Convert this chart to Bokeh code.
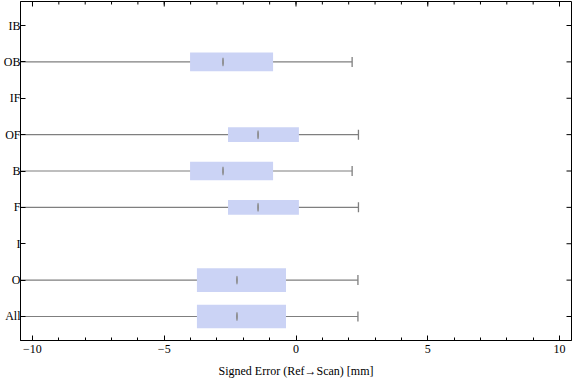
import math
from bokeh.plotting import figure
from bokeh.models import Range1d, FixedTicker, ColumnDataSource
from bokeh.embed import file_html
from bokeh.resources import INLINE

# ---- data ----
row_labels = ["All", "O", "I", "F", "B", "OF", "IF", "OB", "IB"]
series = ["All", "O", "F", "B", "OF", "OB"]
whisker_lo = [-11.5, -11.5, -11.5, -11.5, -11.5, -11.5]
q1 = [-3.76, -3.76, -2.58, -4.02, -2.58, -4.02]
median = [-2.24, -2.24, -1.44, -2.77, -1.44, -2.77]
q3 = [-0.38, -0.38, 0.11, -0.87, 0.11, -0.87]
whisker_hi = [2.35, 2.35, 2.37, 2.13, 2.37, 2.13]
x_major = [-10, -5, 0, 5, 10]
x_major_labels = ["\u221210", "\u22125", "0", "5", "10"]

# ---- style ----
box_height = {"All": 0.65, "O": 0.65, "F": 0.41, "B": 0.51, "OF": 0.41, "OB": 0.51}
FONT = "Liberation Serif"
GRAY = "#7f7f7f"
BOX = "#cbd3f5"
X0, X1 = -10.455, 10.455
Y0, Y1 = 0.34, 9.66

pos = {lab: i + 1 for i, lab in enumerate(row_labels)}
row_pos = [pos[l] for l in row_labels]
x_minor = list(range(-10, 11))
src = ColumnDataSource(dict(
    y=[pos[s] for s in series],
    lo=whisker_lo, q1=q1, med=median, q3=q3, hi=whisker_hi,
    h=[box_height[s] for s in series],
))

p = figure(width=576, height=381, output_backend="svg", toolbar_location=None,
           x_range=Range1d(X0, X1), y_range=Range1d(Y0, Y1),
           min_border_left=20, min_border_right=5, min_border_top=1, min_border_bottom=41,
           x_axis_label="Signed Error (Ref\u2192Scan) [mm]")
p.xgrid.visible = False
p.ygrid.visible = False
p.outline_line_color = "black"
p.outline_line_width = 1
p.background_fill_color = "white"
p.border_fill_color = "white"

p.segment(x0="lo", y0="y", x1="hi", y1="y", source=src, line_color=GRAY, line_width=1.2)
p.hbar(y="y", left="q1", right="q3", height="h", source=src, fill_color=BOX, line_color=None)
p.ellipse(x="med", y="y", width=1.8, height=9, width_units="screen", height_units="screen",
          source=src, fill_color="#8a8a8a", line_color=None)
p.rect(x="hi", y="y", width=1.3, height=10, width_units="screen", height_units="screen",
       source=src, fill_color=GRAY, line_color=None)

# mirrored ticks on top and right edges (half of each dash is clipped by the frame)
p.scatter(x=x_minor, y=[Y1] * len(x_minor), marker="dash", angle=math.pi / 2, size=6,
          line_color="black", line_width=1)
p.scatter(x=x_major, y=[Y1] * len(x_major), marker="dash", angle=math.pi / 2, size=10,
          line_color="black", line_width=1)
p.scatter(x=[X1] * len(row_pos), y=row_pos, marker="dash", size=10,
          line_color="black", line_width=1)

ax = p.xaxis[0]
ax.ticker = FixedTicker(ticks=x_major, minor_ticks=x_minor)
ax.axis_line_color = "black"
ax.major_tick_in = 5
ax.major_tick_out = 0
ax.minor_tick_in = 3
ax.minor_tick_out = 0
ax.major_tick_line_color = "black"
ax.minor_tick_line_color = "black"
ax.major_label_overrides = {v: t for v, t in zip(x_major, x_major_labels)}
ax.major_label_text_font = FONT
ax.major_label_text_font_size = "12px"
ax.major_label_text_color = "black"
ax.major_label_standoff = 4
ax.axis_label_text_font = FONT
ax.axis_label_text_font_size = "12px"
ax.axis_label_text_font_style = "normal"
ax.axis_label_text_color = "black"
ax.axis_label_standoff = 8

ay = p.yaxis[0]
ay.ticker = FixedTicker(ticks=row_pos, minor_ticks=[])
ay.axis_line_color = "black"
ay.major_tick_in = 5
ay.major_tick_out = 0
ay.minor_tick_line_color = None
ay.major_tick_line_color = "black"
ay.major_label_overrides = {pos[l]: l for l in row_labels}
ay.major_label_text_font = FONT
ay.major_label_text_font_size = "12px"
ay.major_label_text_color = "black"
ay.major_label_standoff = 0

open("out.html", "w").write(file_html(p, INLINE))
